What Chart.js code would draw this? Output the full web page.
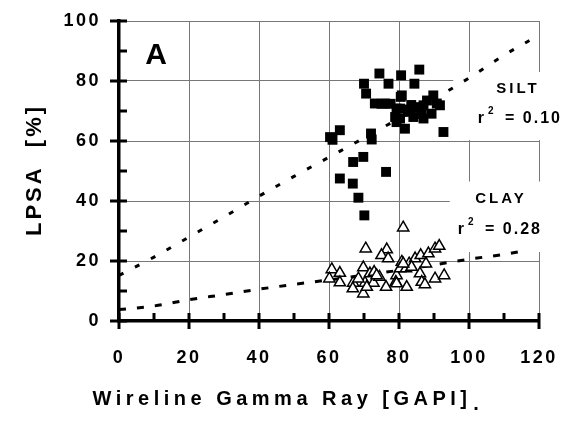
<!DOCTYPE html>
<html>
<head>
<meta charset="utf-8">
<script src="https://cdn.jsdelivr.net/npm/chart.js@4.4.1/dist/chart.umd.min.js"></script>
<style>
  html, body { margin: 0; padding: 0; background: #fff; }
  #wrap { width: 563px; height: 424px; }
</style>
</head>
<body>
<div id="wrap"><canvas id="grChart"></canvas></div>
<script>
// silt fraction (filled squares) vs gamma ray
const siltGr = [60.3, 61.0, 63.1, 63.1, 66.8, 66.9, 68.4, 69.8, 70.1, 72.0, 72.2, 76.3,
  70.0, 70.6, 73.1, 74.4, 75.0, 76.0, 77.0, 77.6, 79.3, 78.9, 79.3, 80.3, 80.3, 80.5,
  80.6, 80.8, 81.7, 83.1, 84.1, 84.4, 85.0, 85.8, 87.0, 87.0, 89.3, 89.8, 90.8, 91.7,
  92.7, 82.5, 86.5, 88.0, 83.5];
const siltPct = [61.3, 60.4, 63.6, 47.5, 45.8, 53.0, 41.1, 54.7, 35.2, 62.5, 60.5, 49.7,
  79.1, 75.8, 72.5, 82.5, 72.4, 72.5, 79.1, 72.4, 70.8, 68.0, 66.3, 67.5, 70.8, 74.7,
  81.9, 75.2, 64.1, 69.7, 68.0, 79.1, 71.3, 83.8, 71.9, 67.5, 69.1, 75.2, 72.5, 71.9,
  63.0, 70.5, 69.0, 73.5, 72.0];

// clay fraction (open triangles) vs gamma ray
const clayGr = [81.2, 70.5, 76.5, 75.0, 76.9, 60.8, 63.1, 60.1, 63.1, 66.9, 66.8, 69.8,
  69.8, 70.3, 68.4, 71.7, 72.7, 72.9, 74.4, 76.3, 79.3, 79.1, 80.8, 80.3, 82.0, 82.2,
  82.9, 84.6, 86.0, 86.5, 87.4, 87.7, 86.2, 88.4, 90.3, 91.5, 90.3, 92.9, 83.6, 81.2,
  79.3, 73.6, 70.8];
const clayPct = [31.1, 24.1, 23.8, 21.9, 20.8, 17.2, 16.0, 14.1, 12.8, 12.7, 10.8, 9.1,
  17.8, 12.7, 14.1, 15.8, 12.7, 16.3, 14.7, 11.3, 15.2, 13.0, 19.7, 17.5, 17.5, 11.3,
  19.1, 20.8, 15.8, 13.0, 12.2, 19.1, 21.9, 22.5, 24.1, 25.0, 14.1, 15.2, 18.0, 19.1,
  12.5, 15.2, 11.3];

// fitted trend curves
const siltFitGr = [0, 10, 20, 30, 40, 50, 60, 70, 80, 90, 100, 110, 120];
const siltFitPct = [15.2, 21.3, 28.0, 34.7, 41.6, 48.2, 54.6, 61.0, 67.5, 74.0, 81.0, 88.6, 95.3];
const clayFitGr = [0, 10, 20, 30, 40, 50, 60, 70, 80, 90, 100, 110, 114];
const clayFitPct = [3.8, 5.0, 7.1, 8.8, 10.6, 12.2, 13.7, 15.3, 16.9, 18.7, 20.6, 22.2, 23.0];

const xTicks = [0, 20, 40, 60, 80, 100, 120];
const yTicks = [0, 20, 40, 60, 80, 100];

const FONT = '"Liberation Sans", Arial, sans-serif';

function toPoints(xs, ys) {
    return xs.map((x, i) => ({ x: x, y: ys[i] }));
}

// axis ticks, label boxes and annotations
const decorations = {
    id: 'decorations',
    beforeDraw(chart) {
        chart.ctx.letterSpacing = '2.5px';
    },
    beforeDatasetsDraw(chart) {
        const ctx = chart.ctx;
        const xs = chart.scales.x;
        const ys = chart.scales.y;
        // white boxes behind the r^2 labels
        ctx.save();
        ctx.fillStyle = '#fff';
        ctx.fillRect(xs.getPixelForValue(95.5), ys.getPixelForValue(83), 120, ys.getPixelForValue(60.3) - ys.getPixelForValue(83));
        ctx.fillRect(xs.getPixelForValue(94.5), ys.getPixelForValue(46.5), 120, ys.getPixelForValue(23) - ys.getPixelForValue(46.5));
        ctx.restore();
    },
    afterDraw(chart) {
        const ctx = chart.ctx;
        const xs = chart.scales.x;
        const ys = chart.scales.y;
        const x0 = xs.getPixelForValue(0);
        const y0 = ys.getPixelForValue(0);
        ctx.save();
        ctx.strokeStyle = '#000';
        ctx.lineWidth = 3;
        for (let v = 0; v <= 120; v += 10) {
            const px = xs.getPixelForValue(v);
            ctx.beginPath();
            ctx.moveTo(px, y0 - 8);
            ctx.lineTo(px, v % 20 === 0 ? y0 + 8 : y0);
            ctx.stroke();
        }
        for (let v = 0; v <= 100; v += 10) {
            const py = ys.getPixelForValue(v);
            ctx.beginPath();
            ctx.moveTo(v % 20 === 0 ? x0 - 9 : x0, py);
            ctx.lineTo(x0 + 8, py);
            ctx.stroke();
        }

        ctx.fillStyle = '#000';
        ctx.textBaseline = 'alphabetic';
        ctx.textAlign = 'center';
        ctx.letterSpacing = '0px';
        ctx.font = 'bold 30px ' + FONT;
        ctx.fillText('A', 156, 64);

        ctx.letterSpacing = '3px';
        ctx.font = 'bold 15px ' + FONT;
        ctx.fillText('SILT', 518, 93);
        ctx.fillText('CLAY', 501, 203);

        ctx.letterSpacing = '2px';
        ctx.textAlign = 'right';
        ctx.font = 'bold 16px ' + FONT;
        ctx.fillText('= 0.10', 562, 123);
        ctx.fillText('= 0.28', 542, 234);
        ctx.fillText('r', 486, 123);
        ctx.fillText('r', 466, 234);
        ctx.font = 'bold 10px ' + FONT;
        ctx.textAlign = 'left';
        ctx.fillText('2', 488, 114);
        ctx.fillText('2', 468, 225);

        // axis titles
        ctx.letterSpacing = '4.5px';
        ctx.textAlign = 'center';
        ctx.font = 'bold 20px ' + FONT;
        ctx.fillText('Wireline Gamma Ray [GAPI]', 282, 405);
        ctx.letterSpacing = '0px';
        ctx.fillText('.', 476, 410);

        ctx.translate(41, 170);
        ctx.rotate(-Math.PI / 2);
        ctx.letterSpacing = '3px';
        ctx.font = 'bold 22px ' + FONT;
        ctx.fillText('LPSA  [%]', 0, 0);
        ctx.restore();
    }
};

const ctx = document.getElementById('grChart');

new Chart(ctx, {
    type: 'scatter',
    data: {
        datasets: [
            {
                label: 'Silt',
                data: toPoints(siltGr, siltPct),
                pointStyle: 'rect',
                pointRadius: 7,
                backgroundColor: '#000',
                borderColor: '#000',
                borderWidth: 0
            },
            {
                label: 'Clay',
                data: toPoints(clayGr, clayPct),
                pointStyle: 'triangle',
                pointRadius: 6.5,
                backgroundColor: '#fff',
                borderColor: '#000',
                borderWidth: 1.5
            },
            {
                label: 'Silt fit',
                data: toPoints(siltFitGr, siltFitPct),
                showLine: true,
                pointRadius: 0,
                borderColor: '#000',
                borderWidth: 3,
                borderDash: [5, 13],
                cubicInterpolationMode: 'monotone'
            },
            {
                label: 'Clay fit',
                data: toPoints(clayFitGr, clayFitPct),
                showLine: true,
                pointRadius: 0,
                borderColor: '#000',
                borderWidth: 3,
                borderDash: [7, 11],
                cubicInterpolationMode: 'monotone'
            }
        ]
    },
    options: {
        responsive: true,
        maintainAspectRatio: false,
        animation: false,
        layout: {
            padding: { left: 0, right: 24, top: 21, bottom: 0 }
        },
        plugins: {
            legend: { display: false },
            tooltip: { enabled: false }
        },
        scales: {
            x: {
                type: 'linear',
                min: 0,
                max: 120,
                afterFit: scale => {
                    scale.height = 103;
                    scale.paddingLeft = 0;
                    scale.paddingRight = 0;
                },
                afterBuildTicks: scale => { scale.ticks = xTicks.map(v => ({ value: v })); },
                grid: { color: '#777', lineWidth: 1, drawTicks: false },
                border: { display: true, color: '#000', width: 3.5 },
                ticks: {
                    padding: 26,
                    color: '#000',
                    maxRotation: 0,
                    font: { family: FONT, size: 18, weight: 'bold' }
                }
            },
            y: {
                type: 'linear',
                min: 0,
                max: 100,
                afterFit: scale => {
                    scale.width = 119;
                    scale.paddingTop = 0;
                    scale.paddingBottom = 0;
                },
                afterBuildTicks: scale => { scale.ticks = yTicks.map(v => ({ value: v })); },
                grid: { color: '#777', lineWidth: 1, drawTicks: false },
                border: { display: true, color: '#000', width: 3.5 },
                ticks: {
                    padding: 18,
                    color: '#000',
                    font: { family: FONT, size: 18, weight: 'bold' }
                }
            }
        }
    },
    plugins: [decorations]
});
</script>
</body>
</html>
